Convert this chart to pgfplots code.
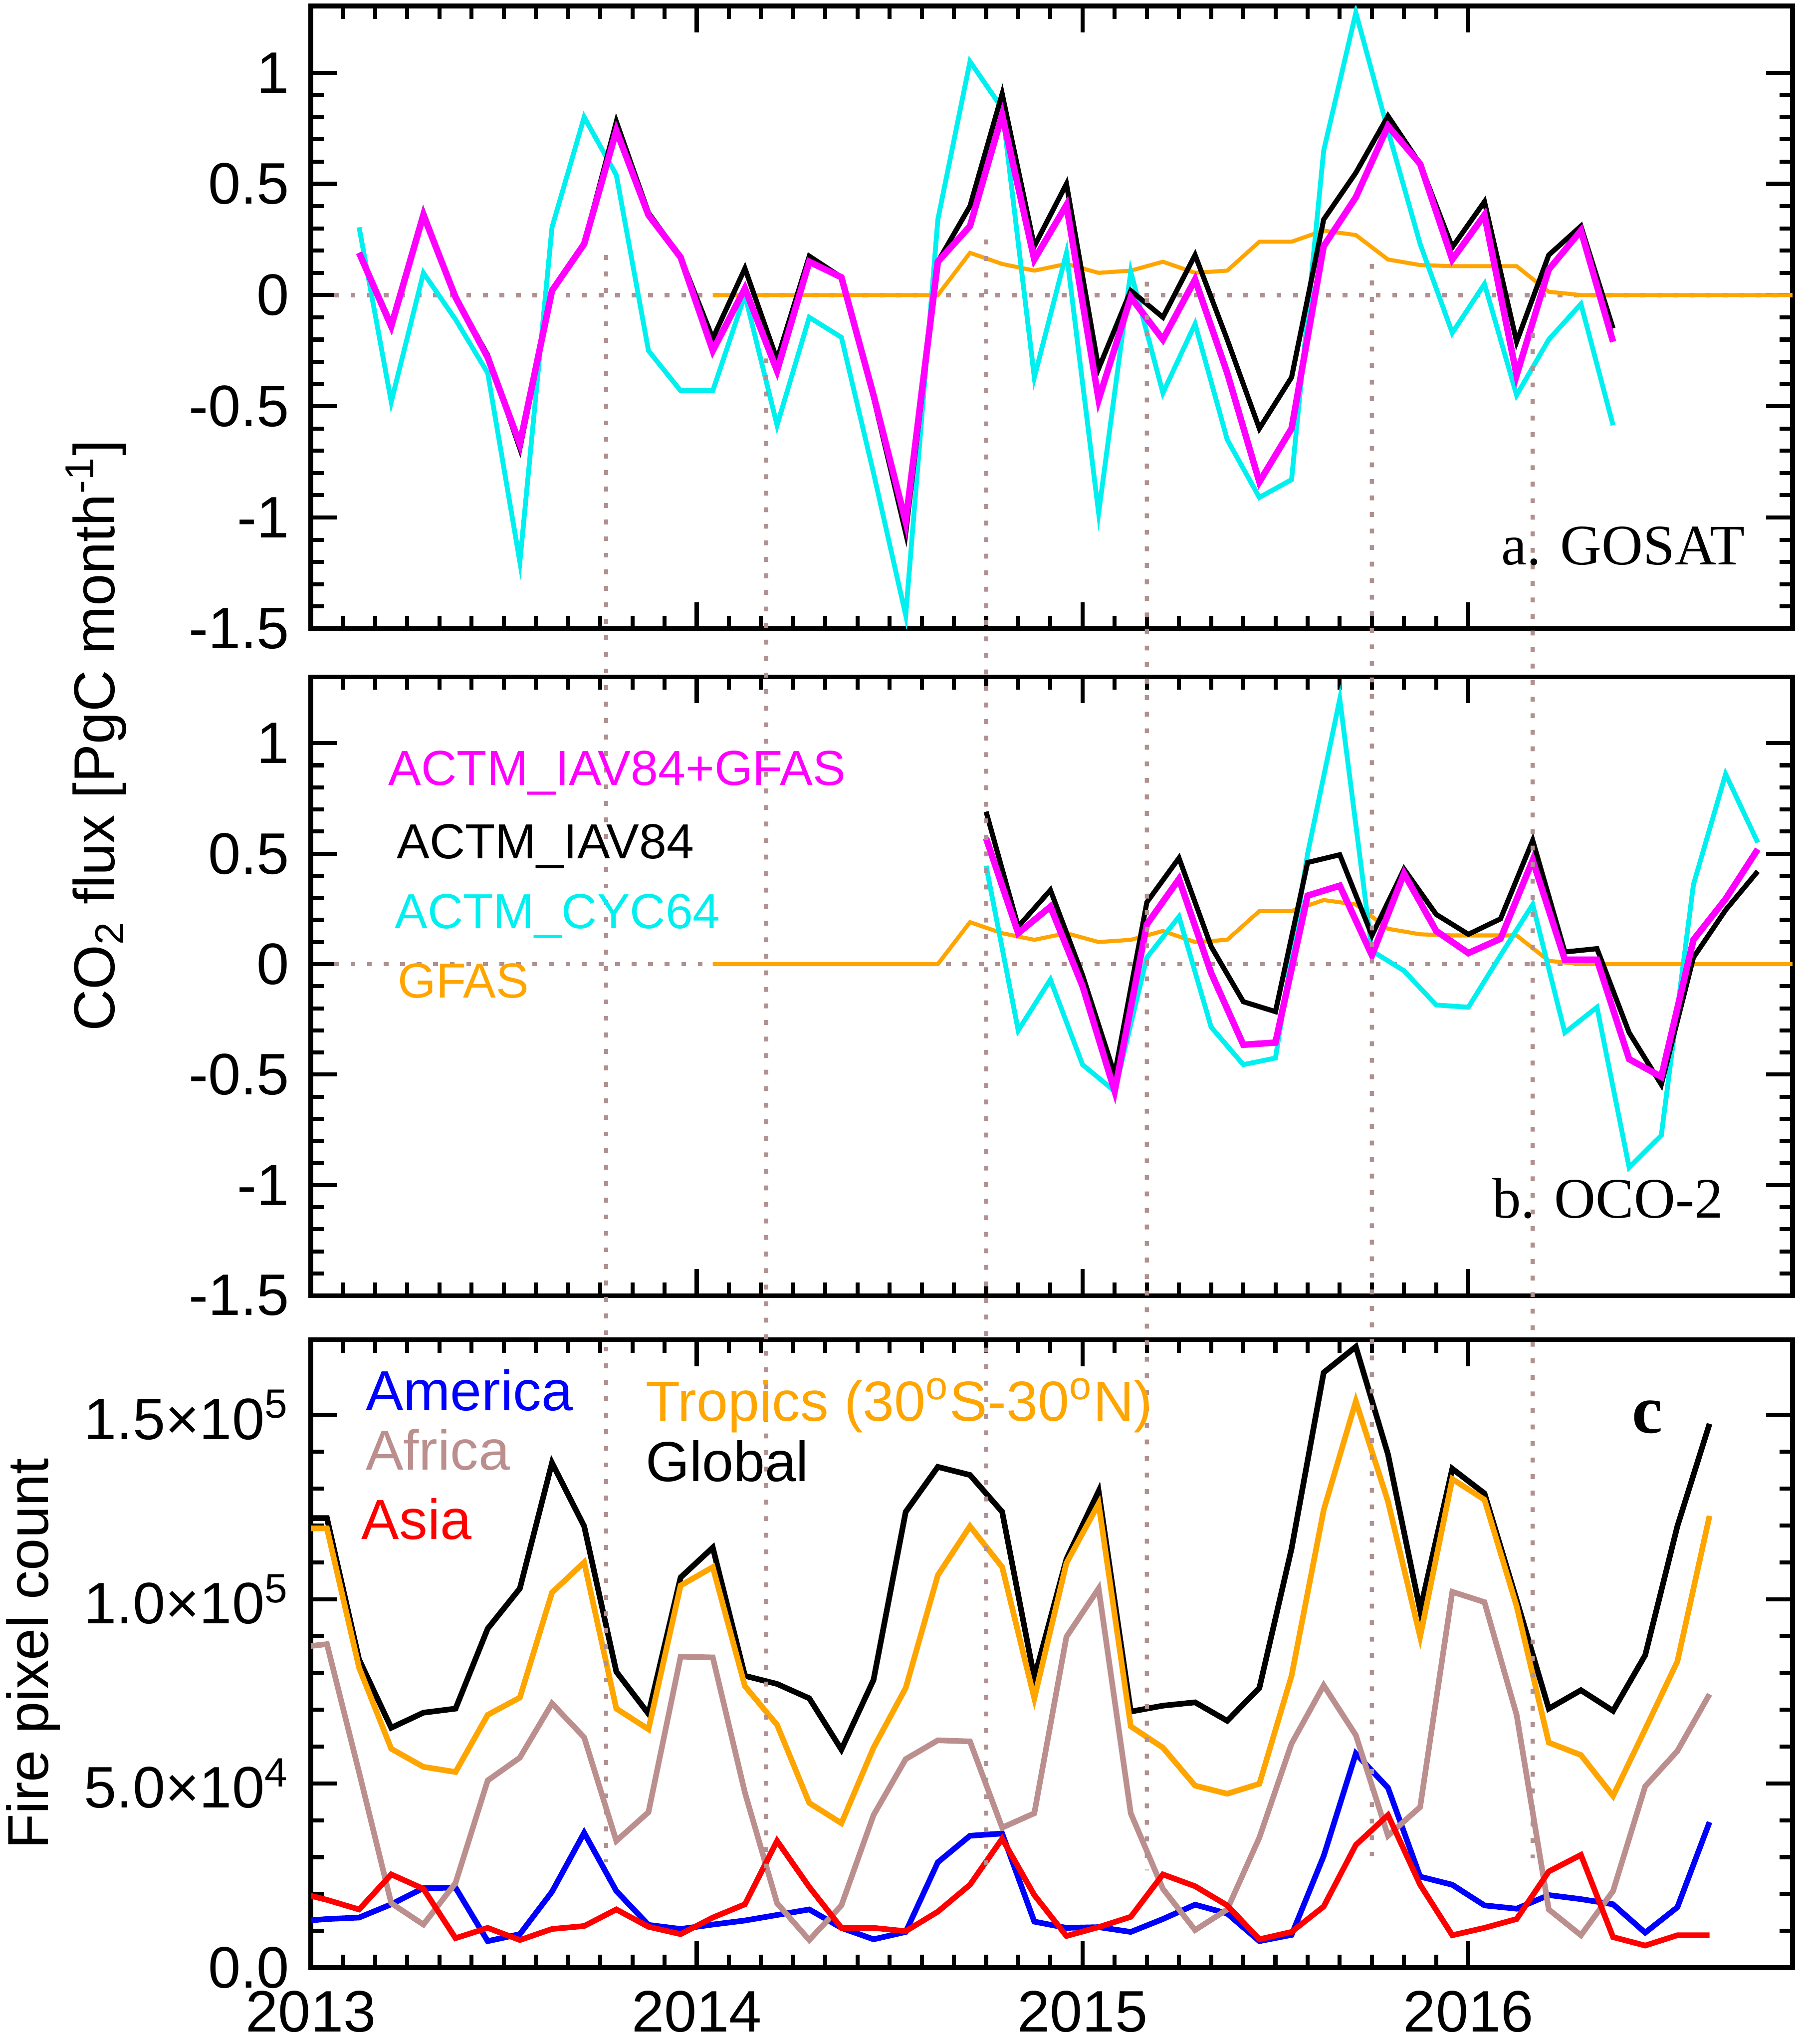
\documentclass[border=0pt]{standalone}
\usepackage{fontspec}
\setmainfont{Liberation Sans}
\newfontfamily\seriffont{Liberation Serif}
\usepackage{pgfplots}
\pgfplotsset{compat=1.18}
\usepackage{pgfplotstable}

\definecolor{cmag}{RGB}{255,0,255}
\definecolor{ccyan}{RGB}{0,240,240}
\definecolor{corange}{RGB}{255,165,0}
\definecolor{cbrown}{RGB}{188,143,143}
\definecolor{cdot}{RGB}{176,144,144}
\definecolor{cblue}{RGB}{0,0,255}
\definecolor{cred}{RGB}{255,0,0}

\def\U{0.0035}

% Panel a: GOSAT (mid-month)
\pgfplotstableread{
x B M C
2013.125 0.19 0.19 0.305
2013.2083 -0.13 -0.14 -0.48
2013.2917 0.37 0.36 0.10
2013.375 -0.01 -0.01 -0.11
2013.4583 -0.27 -0.28 -0.35
2013.5417 -0.69 -0.67 -1.20
2013.625 0.02 0.02 0.305
2013.7083 0.23 0.23 0.80
2013.7917 0.78 0.74 0.54
2013.875 0.37 0.36 -0.25
2013.9583 0.17 0.17 -0.43
2014.0417 -0.195 -0.25 -0.43
2014.125 0.12 0.03 0.00
2014.2083 -0.29 -0.34 -0.585
2014.2917 0.175 0.15 -0.10
2014.375 0.08 0.08 -0.19
2014.4583 -0.46 -0.45 -0.80
2014.5417 -1.07 -1.02 -1.44
2014.625 0.15 0.15 0.34
2014.7083 0.40 0.31 1.05
2014.7917 0.905 0.81 0.84
2014.875 0.22 0.16 -0.37
2014.9583 0.50 0.405 0.19
2015.0417 -0.33 -0.47 -0.98
2015.125 0.02 -0.01 0.105
2015.2083 -0.10 -0.20 -0.44
2015.2917 0.18 0.07 -0.13
2015.375 -0.20 -0.35 -0.65
2015.4583 -0.60 -0.84 -0.91
2015.5417 -0.37 -0.60 -0.83
2015.625 0.34 0.22 0.65
2015.7083 0.55 0.44 1.27
2015.7917 0.805 0.76 0.74
2015.875 0.59 0.59 0.23
2015.9583 0.215 0.16 -0.17
2016.0417 0.42 0.36 0.05
2016.125 -0.21 -0.36 -0.45
2016.2083 0.18 0.115 -0.20
2016.2917 0.31 0.29 -0.04
2016.375 -0.15 -0.21 -0.585
}\tabA

% GFAS (mid-month), same in panels a and b
\pgfplotstableread{
x G
2014.0417 0
2014.125 0
2014.2083 0
2014.2917 0
2014.375 0
2014.4583 0
2014.5417 0
2014.625 0
2014.7083 0.19
2014.7917 0.14
2014.875 0.11
2014.9583 0.14
2015.0417 0.10
2015.125 0.11
2015.2083 0.15
2015.2917 0.10
2015.375 0.11
2015.4583 0.24
2015.5417 0.24
2015.625 0.29
2015.7083 0.27
2015.7917 0.16
2015.875 0.135
2015.9583 0.13
2016.0417 0.13
2016.125 0.13
2016.2083 0.015
2016.2917 0
2016.375 0
2016.4583 0
2016.5417 0
2016.625 0
2016.7083 0
2016.7917 0
2016.875 0
}\tabG

% Panel b: OCO-2 (month boundaries)
\pgfplotstableread{
x B M C
2014.75 0.69 0.57 0.445
2014.8333 0.17 0.14 -0.30
2014.9167 0.335 0.26 -0.07
2015.0 -0.05 -0.10 -0.455
2015.0833 -0.50 -0.575 -0.575
2015.1667 0.28 0.18 0.03
2015.25 0.48 0.385 0.215
2015.3333 0.08 -0.04 -0.285
2015.4167 -0.17 -0.365 -0.455
2015.5 -0.215 -0.355 -0.425
2015.5833 0.46 0.31 0.50
2015.6667 0.495 0.355 1.20
2015.75 0.13 0.04 0.06
2015.8333 0.43 0.41 -0.03
2015.9167 0.225 0.15 -0.185
2016.0 0.135 0.05 -0.195
2016.0833 0.205 0.115 0.04
2016.1667 0.56 0.47 0.27
2016.25 0.055 0.02 -0.31
2016.3333 0.07 0.02 -0.195
2016.4167 -0.31 -0.43 -0.92
2016.5 -0.545 -0.51 -0.775
2016.5833 0.03 0.11 0.36
2016.6667 0.245 0.295 0.86
2016.75 0.42 0.52 0.55
}\tabB

% Panel c: fire pixel counts in units of 10^4 (mid-month)
\pgfplotstableread{
x Am Af As Tr Gl
2012.9583 1.25 8.68 2.06 11.92 12.2
2013.0417 1.32 8.78 1.84 11.92 12.2
2013.125 1.36 5.3 1.58 8.14 8.36
2013.2083 1.72 1.75 2.53 5.94 6.51
2013.2917 2.16 1.17 2.14 5.45 6.92
2013.375 2.17 2.30 0.80 5.31 7.03
2013.4583 0.72 5.08 1.08 6.86 9.20
2013.5417 0.91 5.70 0.75 7.33 10.29
2013.625 2.06 7.17 1.05 10.18 13.70
2013.7083 3.66 6.25 1.13 11.0 11.98
2013.7917 2.08 3.44 1.58 7.03 8.03
2013.875 1.16 4.22 1.11 6.47 6.89
2013.9583 1.05 8.44 0.91 10.37 10.59
2014.0417 1.17 8.42 1.36 10.87 11.40
2014.125 1.28 4.75 1.72 7.64 7.92
2014.2083 1.43 1.75 3.44 6.59 7.70
2014.2917 1.58 0.75 2.19 4.47 7.31
2014.375 1.08 1.69 1.08 3.92 5.92
2014.4583 0.77 4.14 1.08 5.97 7.81
2014.5417 0.97 5.66 0.99 7.59 12.37
2014.625 2.86 6.17 1.52 10.65 13.59
2014.7083 3.58 6.14 2.25 11.98 13.37
2014.7917 3.64 3.80 3.50 10.87 12.37
2014.875 1.25 4.19 1.97 7.31 7.86
2014.9583 1.08 8.98 0.86 10.98 11.09
2015.0417 1.10 10.29 1.10 12.59 12.93
2015.125 0.97 4.19 1.38 6.55 6.95
2015.2083 1.32 2.14 2.53 5.97 7.11
2015.2917 1.71 1.02 2.21 4.94 7.20
2015.375 1.47 1.58 1.69 4.72 6.70
2015.4583 0.72 3.53 0.77 4.99 7.59
2015.5417 0.89 6.08 0.97 7.92 11.37
2015.625 3.03 7.66 1.66 12.42 16.15
2015.7083 5.81 6.31 3.33 15.37 16.85
2015.7917 4.88 3.58 4.14 12.65 13.93
2015.875 2.47 4.36 2.25 8.98 9.70
2015.9583 2.25 10.20 0.88 13.26 13.54
2016.0417 1.69 9.92 1.08 12.70 12.87
2016.125 1.60 6.86 1.32 9.81 9.98
2016.2083 1.97 1.58 2.61 6.11 7.03
2016.2917 1.86 0.88 3.06 5.77 7.53
2016.375 1.72 2.08 0.83 4.66 6.97
2016.4583 0.95 4.92 0.60 6.47 8.48
2016.5417 1.64 5.88 0.88 8.31 11.98
2016.625 3.95 7.42 0.88 12.26 14.76
}\tabC

\tikzset{zerodot/.style={cdot, line width=1.05pt, dash pattern=on 1.2pt off 2.9pt}}

\pgfplotsset{
  panel/.style={
    scale only axis, width=12.9115cm,
    xmin=2013, xmax=2016.84,
    xtick={2013,2014,2015,2016}, minor x tick num=11,
    tick align=inside, tick pos=both,
    major tick length=0.23cm, minor tick length=0.112cm,
    axis line style={line width=1.15pt},
    tick style={line width=1pt, black},
    tick label style={font=\fontsize{14.5}{17}\selectfont},
    yticklabel style={xshift=-0.063cm},
    xticklabel style={yshift=-0.077cm},
    anchor=south west,
  },
  fluxaxis/.style={
    ymin=-1.5, ymax=1.3,
    ytick={-1.5,-1,-0.5,0,0.5,1},
    yticklabels={-1.5,-1,-0.5,0,0.5,1},
    minor y tick num=4,
    xticklabels={},
  },
}

\begin{document}
\begin{tikzpicture}
\useasboundingbox (0,0) rectangle (15.7255cm,17.808cm);

% ---------- Panel a ----------
\begin{axis}[panel, fluxaxis, height=5.425cm,
  at={(2.709cm,12.3305cm)}]
  \addplot[zerodot] coordinates {(2013.06,0) (2016.84,0)};
  \addplot[corange, line width=1.0pt] table[x=x, y=G] {\tabG};
  \addplot[ccyan, line width=1.2pt] table[x=x, y=C] {\tabA};
  \addplot[black, line width=1.25pt] table[x=x, y=B] {\tabA};
  \addplot[cmag, line width=1.6pt] table[x=x, y=M] {\tabA};
  \coordinate (va1) at (axis cs:2013.765,0.18);
  \coordinate (va2) at (axis cs:2014.18,-0.285);
  \coordinate (va3) at (axis cs:2014.75,0.25);
  \coordinate (va4) at (axis cs:2015.1667,0.06);
  \coordinate (va5) at (axis cs:2015.75,0.14);
  \coordinate (va6) at (axis cs:2016.1667,-0.17);
\end{axis}

% ---------- Panel b ----------
\begin{axis}[panel, fluxaxis, height=5.39cm,
  at={(2.709cm,6.5205cm)}]
  \addplot[zerodot] coordinates {(2013.06,0) (2016.84,0)};
  \addplot[corange, line width=1.0pt] table[x=x, y=G] {\tabG};
  \addplot[ccyan, line width=1.2pt] table[x=x, y=C] {\tabB};
  \addplot[black, line width=1.25pt] table[x=x, y=B] {\tabB};
  \addplot[cmag, line width=1.6pt] table[x=x, y=M] {\tabB};
\end{axis}

% ---------- Panel c ----------
\begin{axis}[panel, height=5.4705cm,
  at={(2.709cm,0.665cm)},
  ymin=0, ymax=17.04,
  ytick={0,5,10,15},
  yticklabels={0.0, 5.0×10\textsuperscript{4}, 1.0×10\textsuperscript{5}, 1.5×10\textsuperscript{5}},
  minor y tick num=4,
  xticklabels={2013,2014,2015,2016}]
  \addplot[black, line width=1.4pt] table[x=x, y=Gl] {\tabC};
  \addplot[corange, line width=1.4pt] table[x=x, y=Tr] {\tabC};
  \addplot[cblue, line width=1.4pt] table[x=x, y=Am] {\tabC};
  \addplot[cbrown, line width=1.4pt] table[x=x, y=Af] {\tabC};
  \addplot[cred, line width=1.4pt] table[x=x, y=As] {\tabC};
  \coordinate (vc1) at (axis cs:2013.765,2.86);
  \coordinate (vc2) at (axis cs:2014.18,2.64);
  \coordinate (vc3) at (axis cs:2014.75,2.52);
  \coordinate (vc4) at (axis cs:2015.1667,2.64);
  \coordinate (vc5) at (axis cs:2015.75,3.03);
  \coordinate (vc6) at (axis cs:2016.1667,2.97);
\end{axis}

% vertical dotted guide lines across panels
\foreach \i in {1,...,6} {
  \draw[zerodot] (va\i) -- (vc\i);
}

% panel labels
\node[anchor=base west, inner sep=0pt, font=\seriffont\fontsize{14.2}{17}\selectfont]
  at ({3743*\U},{(5088-1400)*\U}) {a. GOSAT};
\node[anchor=base west, inner sep=0pt, font=\seriffont\fontsize{14.2}{17}\selectfont]
  at ({3720*\U},{(5088-3028)*\U}) {b. OCO-2};
\node[anchor=base west, inner sep=0pt, font=\seriffont\bfseries\fontsize{17}{20}\selectfont]
  at ({4069*\U},{(5088-3565)*\U}) {c};

% legend panel b
\begin{scope}[every node/.style={anchor=base west, inner sep=0pt, font=\fontsize{12.2}{14}\selectfont}]
\node[text=cmag] at ({967*\U},{(5088-1949)*\U}) {ACTM\_IAV84+GFAS};
\node[text=black] at ({988*\U},{(5088-2133)*\U}) {ACTM\_IAV84};
\node[text=ccyan] at ({983*\U},{(5088-2307)*\U}) {ACTM\_CYC64};
\node[text=corange] at ({990*\U},{(5088-2480)*\U}) {GFAS};
\end{scope}

% legend panel c
\begin{scope}[every node/.style={anchor=base west, inner sep=0pt, font=\fontsize{14}{16}\selectfont}]
\node[text=cblue] at ({910*\U},{(5088-3508)*\U}) {America};
\node[text=cbrown] at ({910*\U},{(5088-3656)*\U}) {Africa};
\node[text=cred] at ({900*\U},{(5088-3830)*\U}) {Asia};
\node[text=corange] at ({1608*\U},{(5088-3534)*\U}) {Tropics (30\textsuperscript{o}S-30\textsuperscript{o}N)};
\node[text=black] at ({1608*\U},{(5088-3685)*\U}) {Global};
\end{scope}

% y axis labels
\node[rotate=90, anchor=base, inner sep=0pt, font=\fontsize{14.3}{17}\selectfont]
  at ({286*\U},{(5088-1826)*\U}) {CO\textsubscript{2} flux [PgC month\textsuperscript{-1}]};
\node[rotate=90, anchor=base, inner sep=0pt, font=\fontsize{14.3}{17}\selectfont]
  at ({120*\U},{(5088-4115)*\U}) {Fire pixel count};
\end{tikzpicture}
\end{document}
